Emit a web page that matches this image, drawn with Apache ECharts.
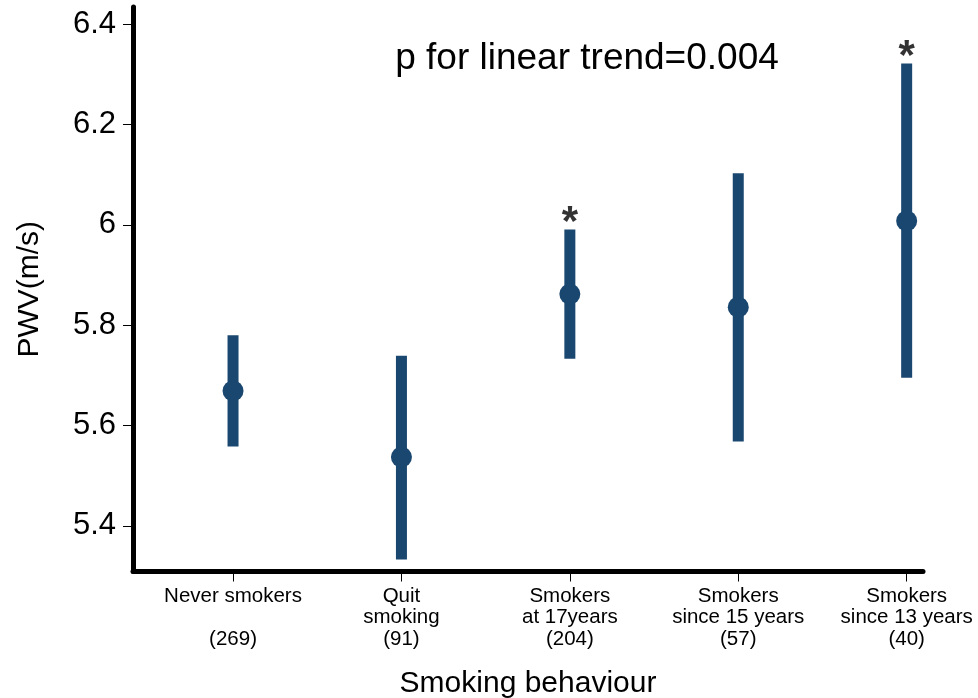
<!DOCTYPE html>
<html>
<head>
<meta charset="utf-8">
<script src="https://cdn.jsdelivr.net/npm/echarts@6/dist/echarts.min.js"></script>
<style>html,body{margin:0;padding:0;background:#fff}#c{width:978px;height:698px}</style>
</head>
<body>
<div id="c"></div>
<script>
var categories = ['Never smokers\n\n(269)', 'Quit\nsmoking\n(91)', 'Smokers\nat 17years\n(204)', 'Smokers\nsince 15 years\n(57)', 'Smokers\nsince 13 years\n(40)'];
var means = [5.669, 5.537, 5.862, 5.836, 6.008];
var lower = [5.558, 5.333, 5.733, 5.568, 5.695];
var upper = [5.780, 5.739, 5.991, 6.103, 6.322];
var stars = ['', '', '*', '', '*'];
var yTicks = [5.4, 5.6, 5.8, 6.0, 6.2, 6.4];
var xTicks = [1, 2, 3, 4, 5];
var annotation = 'p for linear trend=0.004';

var navy = '#1a476f';
var font = '"Liberation Sans", Arial, Helvetica, sans-serif';

var ciData = categories.map(function (c, i) { return [i + 1, lower[i], upper[i]]; });
var ptData = categories.map(function (c, i) { return [i + 1, means[i]]; });
var starData = [];
stars.forEach(function (s, i) { if (s) starData.push({ value: [i + 1, upper[i]], label: { formatter: s } }); });

var chart = echarts.init(document.getElementById('c'), null, { renderer: 'canvas' });
chart.setOption({
  backgroundColor: '#fff',
  animation: false,
  grid: { left: 133, right: 55, top: 7, bottom: 126.5, containLabel: false, outerBoundsMode: 'none' },
  xAxis: {
    type: 'value', min: 0.406, max: 5.097,
    splitLine: { show: false },
    axisLine: { show: true, onZero: false, lineStyle: { color: '#000', width: 5 } },
    axisTick: { show: true, customValues: xTicks, length: 10, lineStyle: { color: '#000', width: 1 } },
    axisLabel: {
      customValues: xTicks, margin: 14, fontSize: 20.5, lineHeight: 21.5, color: '#000', fontFamily: font, align: 'center',
      formatter: function (v) { return categories[Math.round(v) - 1] || ''; }
    },
    name: 'Smoking behaviour', nameLocation: 'middle', nameGap: 97,
    nameTextStyle: { fontSize: 30, color: '#000', fontFamily: font }
  },
  yAxis: {
    type: 'value', min: 5.3089, max: 6.4345,
    splitLine: { show: false },
    axisLine: { show: true, onZero: false, lineStyle: { color: '#000', width: 5 } },
    axisTick: { show: true, customValues: yTicks, length: 10, lineStyle: { color: '#000', width: 1 } },
    axisLabel: {
      customValues: yTicks, margin: 17, fontSize: 31, color: '#000', fontFamily: font,
      formatter: function (v) { return String(Math.round(v * 10) / 10); }
    },
    name: 'PWV(m/s)', nameLocation: 'middle', nameGap: 88, nameRotate: 90,
    nameTextStyle: { fontSize: 30, color: '#000', fontFamily: font }
  },
  graphic: [{
    type: 'text', x: 587, y: 59,
    style: { text: annotation, fontSize: 37, fontFamily: font, fill: '#000', textAlign: 'center', textVerticalAlign: 'middle' }
  }],
  series: [
    {
      type: 'custom', data: ciData, z: 2,
      renderItem: function (params, api) {
        var lo = api.coord([api.value(0), api.value(1)]);
        var hi = api.coord([api.value(0), api.value(2)]);
        var w = 11;
        return { type: 'rect', shape: { x: lo[0] - w / 2, y: hi[1], width: w, height: lo[1] - hi[1] }, style: { fill: navy } };
      }
    },
    {
      type: 'scatter', data: ptData, symbol: 'circle', symbolSize: 21, z: 3,
      itemStyle: { color: navy, opacity: 1 }
    },
    {
      type: 'scatter', data: starData, symbolSize: 2, itemStyle: { color: 'rgba(0,0,0,0)' }, z: 4,
      label: { show: true, position: 'top', distance: -16, fontSize: 42, fontWeight: 'bold', color: '#000', fontFamily: font }
    }
  ]
});
</script>
</body>
</html>
